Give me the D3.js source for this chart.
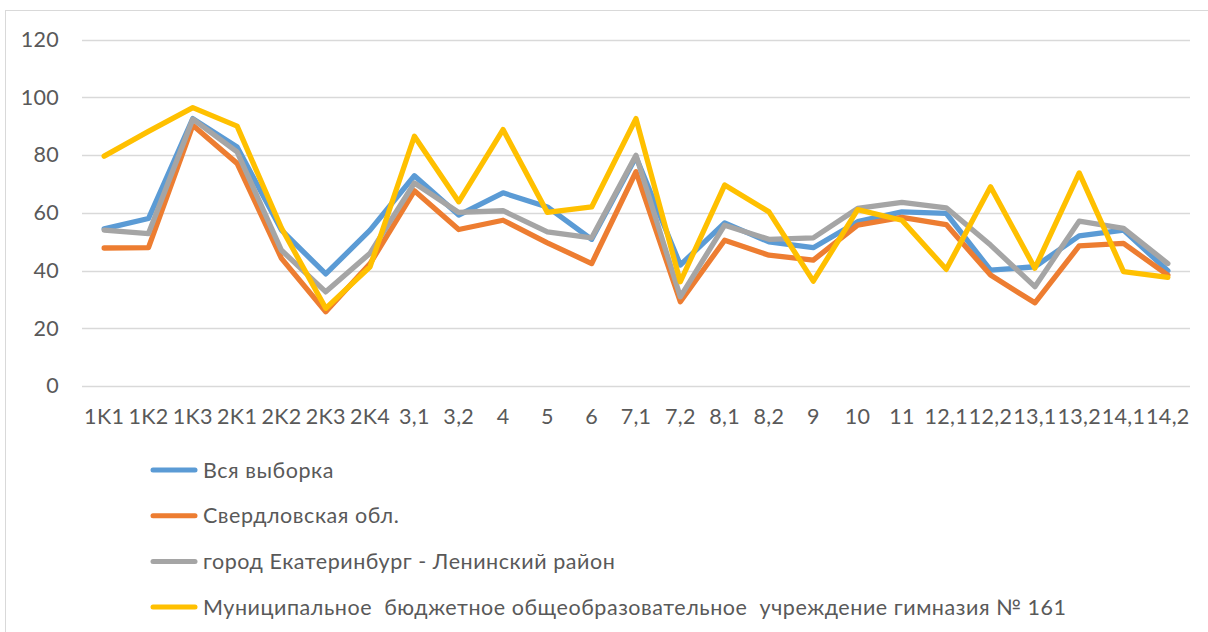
<!DOCTYPE html>
<html><head><meta charset="utf-8">
<script src="https://cdn.jsdelivr.net/npm/d3@7"></script>
<style>
html,body{margin:0;padding:0;background:#fff;}
svg{display:block;font-family:Lato,"Open Sans",sans-serif;}
</style></head>
<body>
<svg id="chart" width="1208" height="632"></svg>
<script>
const categories = ["1K1","1K2","1K3","2K1","2K2","2K3","2K4","3,1","3,2","4","5","6","7,1","7,2","8,1","8,2","9","10","11","12,1","12,2","13,1","13,2","14,1","14,2"];
const seriesNames = ["Вся выборка","Свердловская обл.","город Екатеринбург - Ленинский район","Муниципальное  бюджетное общеобразовательное  учреждение гимназия № 161"];
const seriesColors = ["#5b9bd5","#ed7d31","#a5a5a5","#ffc000"];
const allSample = [54.4,58.0,92.6,82.8,54.0,38.8,54.0,72.8,59.2,66.9,62.0,50.8,79.3,41.9,56.5,49.9,47.9,56.9,60.3,59.8,40.1,41.3,52.0,54.0,39.9];
const sverdlovsk = [47.8,47.9,90.3,77.1,44.2,25.7,42.4,67.6,54.2,57.4,49.6,42.4,74.2,29.2,50.5,45.3,43.6,55.7,58.4,55.9,38.4,28.8,48.5,49.4,38.4];
const leninsky = [54.0,52.8,92.4,81.1,47.0,32.6,46.0,70.3,60.1,60.7,53.4,51.3,79.9,30.9,55.7,50.8,51.3,61.5,63.6,61.7,48.8,34.4,57.1,54.6,42.4];
const gymnasium = [79.6,88.2,96.4,90.0,54.7,26.9,41.3,86.5,63.8,88.8,60.1,62.0,92.6,36.1,69.6,60.3,36.3,61.1,57.4,40.4,69.0,40.8,73.8,39.6,37.6];
const yTicks = [0,20,40,60,80,100,120];

const series = [allSample, sverdlovsk, leninsky, gymnasium];
const svg = d3.select("#chart");
const FS = "21.5px";

// outer border
svg.append("rect").attr("x",5.5).attr("y",10.5).attr("width",1220).attr("height",640)
  .attr("fill","none").attr("stroke","#d9d9d9").attr("stroke-width",1);

const x = d3.scaleBand().domain(categories).range([82,1190]).padding(0);
const y = d3.scaleLinear().domain([0,120]).range([386,39.5]);

// gridlines
svg.append("g").selectAll("line").data(yTicks).join("line")
  .attr("x1",82).attr("x2",1190)
  .attr("y1",d=>Math.round(y(d))+0.5).attr("y2",d=>Math.round(y(d))+0.5)
  .attr("stroke","#d9d9d9").attr("stroke-width",1.3);

// y labels
const yAxis = d3.axisLeft(y).tickValues(yTicks).tickSize(0).tickPadding(0);
const gy = svg.append("g").attr("transform","translate(59,0)").call(yAxis);
gy.select(".domain").remove();
gy.selectAll("text").attr("fill","#595959").style("font-size",FS).style("font-family","Lato,sans-serif").style("letter-spacing","0.3px");

// x labels
const xAxis = d3.axisBottom(x).tickSize(0).tickPadding(0);
const gx = svg.append("g").attr("transform","translate(0,409)").call(xAxis);
gx.select(".domain").remove();
gx.selectAll("text").attr("fill","#595959").style("font-size",FS).style("font-family","Lato,sans-serif").style("letter-spacing","0.3px");

// lines
const line = d3.line().x((d,i)=>x(categories[i])+x.bandwidth()/2).y(d=>y(d));
series.forEach((s,k)=>{
  svg.append("path").datum(s).attr("d",line).attr("fill","none")
    .attr("stroke",seriesColors[k]).attr("stroke-width",5.3)
    .attr("stroke-linejoin","round").attr("stroke-linecap","round");
});

// legend
const leg = svg.append("g");
seriesNames.forEach((n,k)=>{
  const yy = 470 + k*45.7;
  leg.append("line").attr("x1",153).attr("x2",195).attr("y1",yy).attr("y2",yy)
    .attr("stroke",seriesColors[k]).attr("stroke-width",5).attr("stroke-linecap","round");
  leg.append("text").attr("x",203).attr("y",yy).attr("dy","0.35em")
    .attr("fill","#595959").style("font-size",FS).style("letter-spacing","0.55px")
    .style("white-space","pre").text(n);
});
</script>
</body></html>
